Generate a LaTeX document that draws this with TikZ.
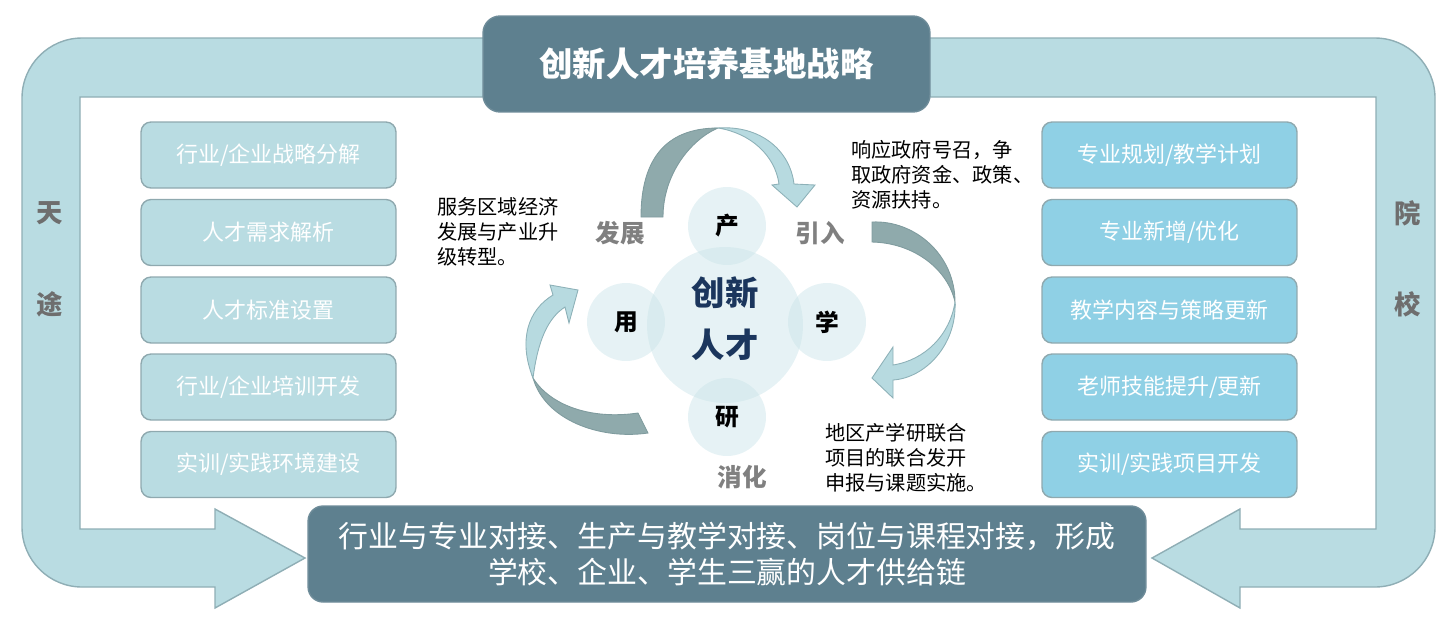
\documentclass[tikz,border=0pt]{standalone}
\usepackage{fontspec}
\setmainfont{Noto Sans CJK SC}
\definecolor{bandfill}{HTML}{B9DCE2}
\definecolor{bandline}{HTML}{8FAEB5}
\definecolor{boxline}{HTML}{8FA9AF}
\definecolor{skyfill}{HTML}{8FD0E5}
\definecolor{slate}{HTML}{5E808F}
\definecolor{slateline}{HTML}{6E8C99}
\definecolor{sidegray}{HTML}{6E6E6E}
\definecolor{phasegray}{HTML}{808080}
\definecolor{navy}{HTML}{1B365D}
\definecolor{circfill}{HTML}{C8E3E8}
\definecolor{arrdark}{HTML}{8FAAAC}
\definecolor{arrdarkline}{HTML}{7F9B9E}
\definecolor{arrlight}{HTML}{B7DAE0}
\definecolor{arrlightline}{HTML}{8DB1B8}
\tikzset{
  frame/.style={fill=bandfill, draw=bandline, line width=0.8pt},
  lbox/.style={rounded corners=0.2cm, fill=bandfill, draw=boxline, line width=0.8pt,
    minimum width=5.1cm, minimum height=1.32cm, inner sep=0pt, text=white,
    font=\fontsize{12.5}{14}\selectfont},
  rbox/.style={lbox, fill=skyfill},
  dbox/.style={rounded corners=0.34cm, fill=slate, draw=slateline, line width=0.8pt,
    inner sep=0pt, text=white},
  side/.style={text=sidegray, font=\bfseries\fontsize{15}{18}\selectfont},
  circ/.style={circle, fill=circfill, fill opacity=0.45, text opacity=1, draw=none,
    minimum size=1.56cm, inner sep=0pt, font=\bfseries\fontsize{13.5}{16}\selectfont},
  phase/.style={text=phasegray, font=\bfseries\fontsize{14}{16}\selectfont},
  note/.style={align=left, anchor=west, inner sep=0pt, font=\fontsize{11.5}{14.2}\selectfont},
  darkpart/.style={fill=arrdark, draw=arrdarkline, line width=0.5pt},
  lightpart/.style={fill=arrlight, draw=arrlightline, line width=0.5pt},
}
\begin{document}
\begin{tikzpicture}[x=0.02cm, y=-0.02cm]
\useasboundingbox (0,0) rectangle (1453,623);

% outer band with two arrow heads
\path[frame] (305,558) -- (215,509) -- (215,529) -- (80,529) -- (80,97) -- (1376,97)
  -- (1376,529) -- (1240,529) -- (1240,509) -- (1152,558) -- (1240,608) -- (1240,587)
  -- (1375,587) .. controls (1408,587) and (1435,560) .. (1435,527)
  -- (1435,98) .. controls (1435,65) and (1408,38) .. (1375,38)
  -- (82,38) .. controls (49,38) and (22,65) .. (22,98)
  -- (22,527) .. controls (22,560) and (49,587) .. (82,587)
  -- (215,587) -- (215,608) -- cycle;

% title and bottom boxes
\node[dbox, minimum width=8.94cm, minimum height=1.92cm,
  font=\bfseries\fontsize{19}{22}\selectfont] (title) at (706.5,64) {创新人才培养基地战略};
\node[dbox, rounded corners=0.3cm, minimum width=16.76cm, minimum height=1.92cm, align=center,
  font=\fontsize{17}{21}\selectfont] (result) at (727,554)
  {行业与专业对接、生产与教学对接、岗位与课程对接，形成\\学校、企业、学生三赢的人才供给链};

% side labels
\node[side] (tian) at (50,213) {天};
\node[side] (tu) at (50,304) {途};
\node[side] (yuan) at (1408,213) {院};
\node[side] (xiao) at (1408,304) {校};

% left column
\node[lbox] (l1) at (268.5,155) {行业/企业战略分解};
\node[lbox] (l2) at (268.5,232.5) {人才需求解析};
\node[lbox] (l3) at (268.5,310) {人才标准设置};
\node[lbox] (l4) at (268.5,387) {行业/企业培训开发};
\node[lbox] (l5) at (268.5,464.5) {实训/实践环境建设};

% right column
\node[rbox] (r1) at (1169.5,155) {专业规划/教学计划};
\node[rbox] (r2) at (1169.5,232.5) {专业新增/优化};
\node[rbox] (r3) at (1169.5,310) {教学内容与策略更新};
\node[rbox] (r4) at (1169.5,387) {老师技能提升/更新};
\node[rbox] (r5) at (1169.5,464.5) {实训/实践项目开发};

% circles
\node[circ, minimum size=3.12cm] (core) at (725,325) {};
\node[circ] (chan) at (727,226) {产};
\node[circ] (xue) at (827,322) {学};
\node[circ] (yong) at (626,322) {用};
\node[circ] (yan) at (727,417) {研};
\node[align=center, text=navy, font=\bfseries\fontsize{19}{29.5}\selectfont] (coretext) at (725,319) {创新\\人才};

% curved arrows
\path[darkpart] (641,217) .. controls (641,160) and (665,128) .. (718,128)
  .. controls (690,140) and (663,175) .. (663,217) -- cycle;
\path[lightpart] (718,128) .. controls (760,125) and (790,150) .. (794,184)
  -- (815,185) -- (797,207) -- (772,185) -- (779,184)
  .. controls (775,155) and (750,133) .. (718,128) -- cycle;

\path[darkpart] (872,222) .. controls (915,220) and (955,255) .. (955,302)
  .. controls (948,270) and (915,243) .. (872,242) -- cycle;
\path[lightpart] (955,302) .. controls (957,345) and (925,378) .. (893,380)
  -- (893,398) -- (872,378) -- (893,347) -- (893,365)
  .. controls (925,360) and (950,335) .. (955,302) -- cycle;

\path[darkpart] (648,433) .. controls (600,440) and (545,420) .. (533,378)
  .. controls (550,405) and (590,420) .. (638,413) -- cycle;
\path[lightpart] (533,378) .. controls (518,340) and (528,310) .. (553,295)
  -- (550,285) -- (578,290) -- (569,323) -- (565,307)
  .. controls (548,318) and (538,340) .. (533,378) -- cycle;

% phase labels
\node[phase] (fazhan) at (620,233) {发展};
\node[phase] (yinru) at (820,233) {引入};
\node[phase] (xiaohua) at (742,477) {消化};

% notes
\node[note] (n1) at (437,232) {服务区域经济\\发展与产业升\\级转型。};
\node[note] (n2) at (851,175) {响应政府号召，争\\取政府资金、政策、\\资源扶持。};
\node[note] (n3) at (825,458) {地区产学研联合\\项目的联合发开\\申报与课题实施。};
\end{tikzpicture}
\end{document}
